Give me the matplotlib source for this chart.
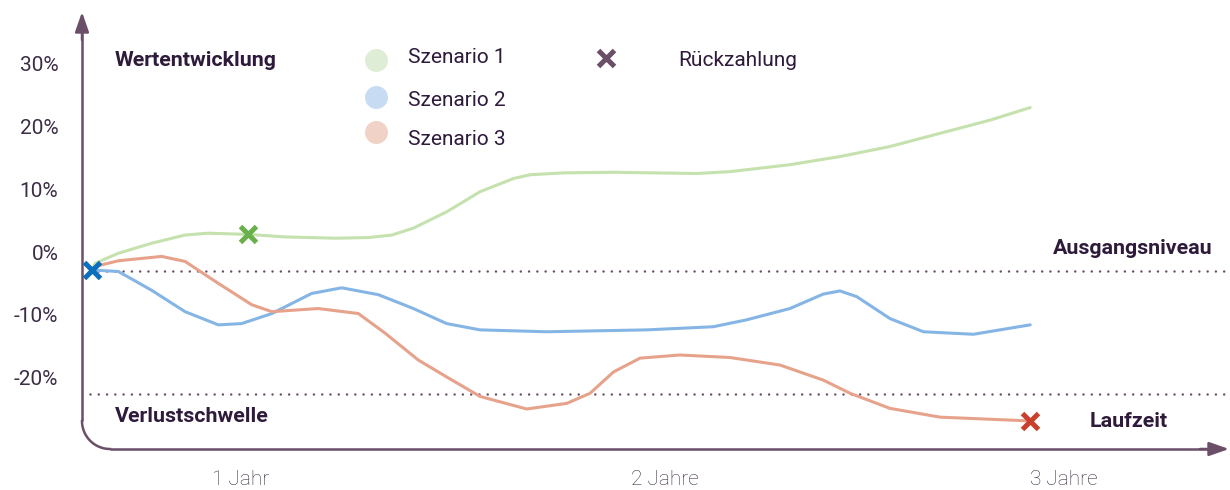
import numpy as np
import matplotlib.pyplot as plt

plt.rcParams['font.family'] = ['Roboto', 'DejaVu Sans']

# time axis in months, values in percent
months_1 = [0.0, 0.12, 1.01, 2.29, 3.57, 4.46, 6.0, 7.41, 9.32, 10.6, 11.5, 12.33, 13.61,
            14.89, 16.17, 16.81, 18.09, 20.0, 23.2, 24.48, 26.78, 28.7, 30.62, 32.54,
            34.46, 36.0]
wert_1 = [-2.9, -1.8, -0.2, 1.4, 2.7, 3.0, 2.8, 2.4, 2.2, 2.3, 2.7, 3.8, 6.4,
          9.6, 11.7, 12.3, 12.6, 12.7, 12.5, 12.8, 13.9, 15.2, 16.8, 18.9,
          21.0, 23.0]

months_2 = [0.0, 0.12, 1.01, 2.29, 3.57, 4.85, 5.74, 6.9, 8.43, 9.58, 10.99, 12.33,
            13.61, 14.89, 17.45, 21.29, 23.84, 25.12, 26.78, 28.06, 28.7, 29.34, 30.62,
            31.9, 33.82, 36.0]
wert_2 = [-2.9, -2.9, -3.1, -6.1, -9.5, -11.6, -11.4, -9.8, -6.6, -5.7, -6.8, -9.0,
          -11.4, -12.4, -12.7, -12.4, -11.9, -10.8, -9.0, -6.7, -6.2, -7.1, -10.6,
          -12.7, -13.1, -11.6]

months_3 = [0.0, 0.12, 1.01, 2.67, 3.57, 4.85, 6.13, 6.9, 8.68, 10.22, 11.24, 12.52,
            13.61, 14.89, 16.68, 18.22, 19.11, 20.01, 21.03, 22.56, 24.48, 26.4, 28.06,
            29.09, 30.62, 32.54, 36.0]
wert_3 = [-2.9, -2.3, -1.4, -0.7, -1.5, -5.0, -8.4, -9.5, -9.0, -9.8, -12.9, -17.2,
          -19.9, -23.0, -25.0, -24.1, -22.5, -19.1, -16.9, -16.4, -16.8, -18.0, -20.4,
          -22.5, -24.9, -26.3, -26.9]

szenarien = ['Szenario 1', 'Szenario 2', 'Szenario 3']

# repayment points (one per scenario)
rueck_t = [6.0, 0.0, 36.0]
rueck_v = [2.8, -2.9, -26.9]

ausgangsniveau = -3.0
verlustschwelle = -22.6

y_ticks = [30, 20, 10, 0, -10, -20]
y_labels = ['30%', '20%', '10%', '0%', '-10%', '-20%']
x_ticks = [5.7, 22.0, 37.3]
x_labels = ['1 Jahr', '2 Jahre', '3 Jahre']

line_cols = ['#c5e1ae', '#85b5e5', '#e6a28a']
cross_cols = ['#6ab04c', '#0b6fbd', '#c9412c']
dot_cols = ['#deeed6', '#c7dcf2', '#f0d2c6']
axis_col = '#6b4e68'
text_col = '#2e1a3a'

W, H = 1230, 490
fig = plt.figure(figsize=(W / 100, H / 100), dpi=100)

# overlay in pixel coordinates for axis arrows and labels
over = fig.add_axes([0, 0, 1, 1], zorder=0)
over.set_xlim(0, W)
over.set_ylim(H, 0)
over.axis('off')

ax = fig.add_axes([82 / W, 41 / H, 1146 / W, 437 / H], zorder=1)
ax.patch.set_alpha(0)
ax.set_xlim(-0.384, 43.59)
ax.set_ylim(-31.37, 38.22)
for s in ax.spines.values():
    s.set_visible(False)

# axes with rounded corner
r = 28
over.plot([82, 82], [421, 30], color=axis_col, lw=1.8, solid_capstyle='butt')
over.plot([110, 1212], [449, 449], color=axis_col, lw=1.8, solid_capstyle='butt')
th = np.linspace(np.pi / 2, np.pi, 30)
over.plot(110 + r * np.cos(th), 421 + r * np.sin(th), color=axis_col, lw=1.8)
arrow = dict(arrowstyle='-|>,head_length=1.2,head_width=0.42', color=axis_col, lw=1.8,
             mutation_scale=10, shrinkA=0, shrinkB=0)
over.annotate('', xy=(82, 12), xytext=(82, 40), arrowprops=arrow)
over.annotate('', xy=(1229, 449), xytext=(1200, 449), arrowprops=arrow)

# reference levels
dots = dict(color=axis_col, lw=1.8, linestyle=(0, (0.01, 3.3)), dash_capstyle='round')
ax.axhline(ausgangsniveau, xmin=0.007, xmax=1, **dots)
ax.axhline(verlustschwelle, xmin=0.007, xmax=1, **dots)

# scenarios
for t, v, c, lab in zip([months_1, months_2, months_3], [wert_1, wert_2, wert_3],
                        line_cols, szenarien):
    ax.plot(t, v, color=c, lw=2.2, solid_capstyle='round', solid_joinstyle='round',
            label=lab, zorder=3)

for t, v, c in zip(rueck_t, rueck_v, cross_cols):
    ax.plot(t, v, marker='x', ms=11.5, mew=3.6, color=c, zorder=5, clip_on=False,
            linestyle='none')

ax.set_yticks(y_ticks, y_labels)
ax.set_xticks(x_ticks, x_labels)
ax.tick_params(length=0, labelsize=15, labelcolor='#3c2c46')
ax.tick_params(axis='y', pad=17)
ax.tick_params(axis='x', pad=15)
for lbl in ax.get_xticklabels():
    lbl.set_fontweight('light')

# labels
bold = dict(fontsize=15.4, fontweight='bold', color=text_col, va='baseline')
over.text(115, 66, 'Wertentwicklung', ha='left', **bold)
over.text(1213, 254, 'Ausgangsniveau', ha='right', **bold)
over.text(115, 422, 'Verlustschwelle', ha='left', **bold)
over.text(1090, 427, 'Laufzeit', ha='left', **bold)

# legend
leg_y = [60, 97, 132]
text_y = [63, 106, 145]
for yy, ty, c, lab in zip(leg_y, text_y, dot_cols, szenarien):
    over.plot(376, yy, marker='o', ms=15.5, color=c, linestyle='none')
    over.text(408, ty, lab, fontsize=15, color=text_col, va='baseline', ha='left')
over.plot(606, 58, marker='x', ms=11.5, mew=3.6, color=axis_col, linestyle='none')
over.text(678, 66, 'Rückzahlung', fontsize=15, color=text_col, va='baseline', ha='left')

fig.savefig('out.png', dpi=100)
